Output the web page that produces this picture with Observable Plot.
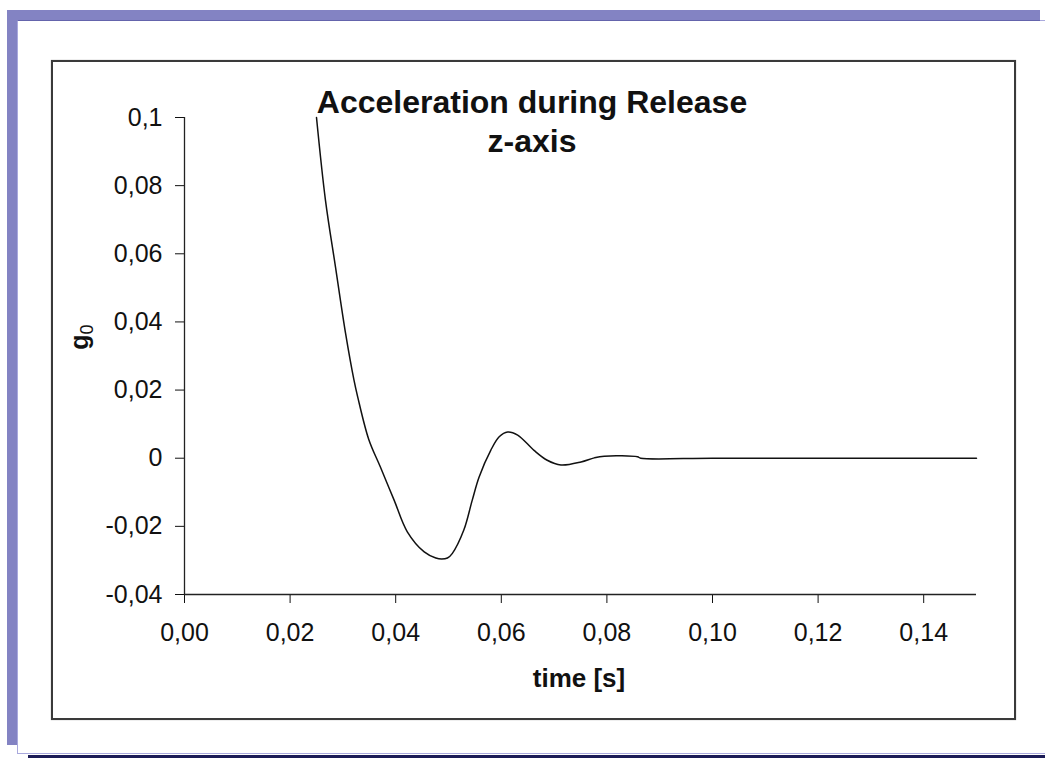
<!DOCTYPE html>
<html><head><meta charset="utf-8">
<script src="https://cdn.jsdelivr.net/npm/d3@7"></script>
<script src="https://cdn.jsdelivr.net/npm/@observablehq/plot@0.6"></script>
<style>
body{margin:0;background:#fff;font-family:"Liberation Sans",Arial,sans-serif;}
#wrap{position:relative;width:1045px;height:758px;overflow:hidden;background:#fff;}
.d{position:absolute;}
</style></head><body><div id="wrap"></div>
<script>
// ---- data ----
const timeS = [0.025,0.0267,0.0286,0.0305,0.0321,0.0328,0.0349,0.0371,0.0397,0.0422,0.0454,0.0476,0.0487,0.0498,0.0507,0.0529,0.0545,0.0558,0.0580,0.0596,0.0612,0.0631,0.0662,0.0687,0.0713,0.0751,0.0776,0.0795,0.0858,0.0864,0.10,0.12,0.15];
const accelG0 = [0.1,0.0757,0.0561,0.0367,0.0229,0.018,0.0055,-0.0026,-0.0123,-0.0216,-0.0275,-0.0293,-0.0296,-0.0293,-0.028,-0.0211,-0.0123,-0.0055,0.0023,0.0063,0.0077,0.0068,0.0023,-0.0006,-0.002,-0.0011,0.0001,0.0006,0.0004,0,0,0,0];
const xTicks = [0,0.02,0.04,0.06,0.08,0.10,0.12,0.14];
const xTickLabels = ["0,00","0,02","0,04","0,06","0,08","0,10","0,12","0,14"];
const yTicks = [-0.04,-0.02,0,0.02,0.04,0.06,0.08,0.1];
const yTickLabels = ["-0,04","-0,02","0","0,02","0,04","0,06","0,08","0,1"];
const titleLines = ["Acceleration during Release","z-axis"];
const xLabel = "time [s]";
const yLabel = "g";
const yLabelSub = "0";

const data = timeS.map((t,i)=>({t, a: accelG0[i]}));
const font = '"Liberation Sans", Arial, sans-serif';

const chart = Plot.plot({
  width:1045, height:758,
  marginLeft:184, marginRight:69, marginTop:117, marginBottom:164,
  style:{background:"transparent", fontFamily:font, fontSize:"25px", color:"#111"},
  x:{domain:[0,0.15], ticks:xTicks, tickSize:9, tickPadding:20, label:null,
     tickFormat:d=>xTickLabels[xTicks.indexOf(d)]},
  y:{domain:[-0.04,0.1], ticks:yTicks, tickSize:9, tickPadding:13, label:null,
     tickFormat:d=>yTickLabels[yTicks.indexOf(d)]},
  marks:[
    Plot.ruleY([-0.04],{stroke:"#222", strokeWidth:1.3}),
    Plot.ruleX([0],{stroke:"#222", strokeWidth:1.3}),
    Plot.line(data,{x:"t", y:"a", stroke:"#111", strokeWidth:1.5, curve:"catmull-rom"})
  ]
});

const svg = d3.select(chart);
svg.append("text").attr("x",532).attr("y",113).attr("text-anchor","middle")
  .attr("font-family",font).attr("font-size",32).attr("font-weight","bold").attr("fill","#111").text(titleLines[0]);
svg.append("text").attr("x",532).attr("y",152).attr("text-anchor","middle")
  .attr("font-family",font).attr("font-size",32).attr("font-weight","bold").attr("fill","#111").text(titleLines[1]);
svg.append("text").attr("x",579).attr("y",687).attr("text-anchor","middle")
  .attr("font-family",font).attr("font-size",26).attr("font-weight","bold").attr("fill","#111").text(xLabel);
const yl = svg.append("text").attr("transform","translate(88,337) rotate(-90)").attr("text-anchor","middle")
  .attr("font-family",font).attr("fill","#111");
yl.append("tspan").attr("font-size",25).attr("font-weight","bold").text(yLabel);
yl.append("tspan").attr("font-size",18).attr("dy",5).text(yLabelSub);

const wrap = document.getElementById("wrap");
chart.style.position="absolute"; chart.style.left="0"; chart.style.top="0";
wrap.appendChild(chart);

function box(l,t,w,h,css){const e=document.createElement("div");e.className="d";
  e.style.left=l+"px";e.style.top=t+"px";e.style.width=w+"px";e.style.height=h+"px";
  Object.assign(e.style,css);wrap.appendChild(e);}
// slide decoration
box(7,10,1033,11,{background:"#8383C3"});
box(7,20,1033,1,{background:"#6464AC"});
box(7,10,11,735,{background:"#8383C3"});
box(17,21,1,733,{background:"#A9A9DD"});
box(17,753,1028,1,{background:"#A9A9DD"});
box(28,755,1017,3,{background:"#1B1B56"});
box(1040,20,5,1,{background:"#A9A9DD"});
// chart frame
box(51,60,961,656,{border:"2px solid #3a3a3a", boxShadow:"0 0 1px #999"});
</script></body></html>
